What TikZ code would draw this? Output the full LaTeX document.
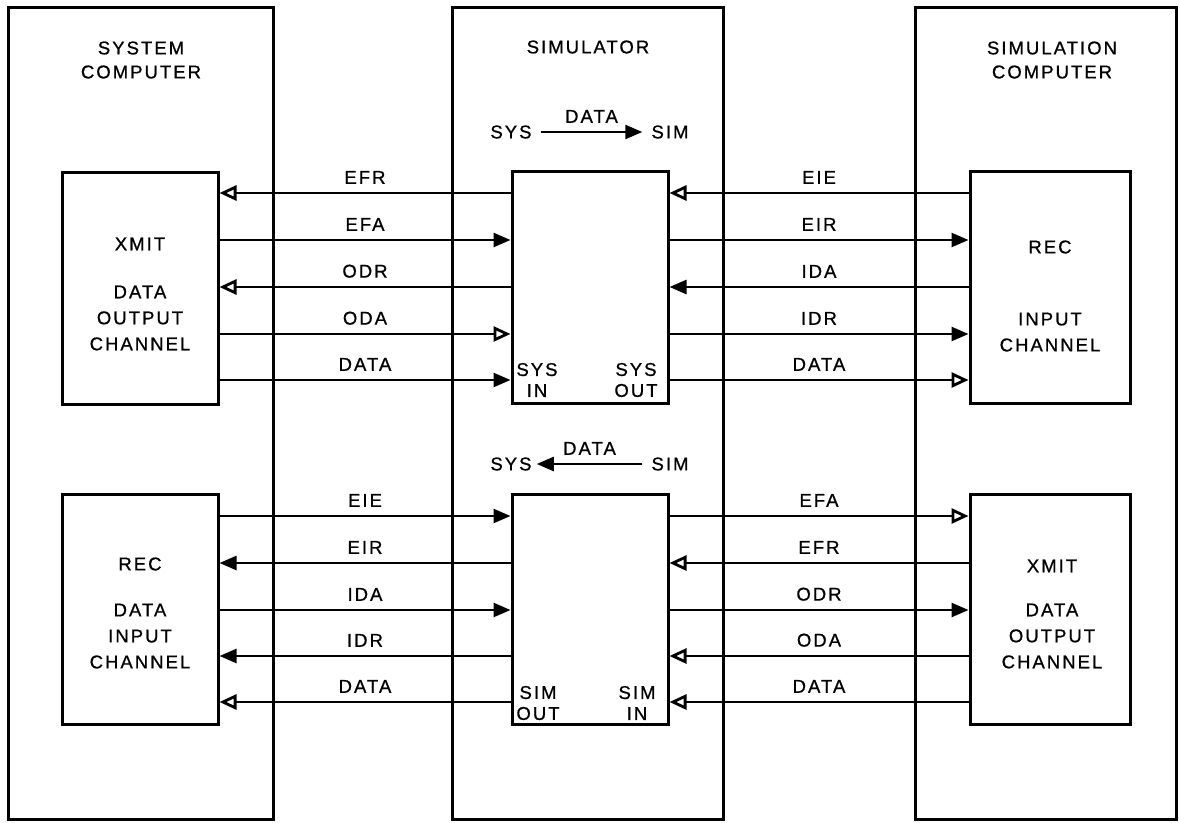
\documentclass[tikz,border=0pt]{standalone}
\usepackage{fontspec}
\setmainfont{Liberation Sans}[LetterSpace=11,FakeBold=0.8]
\usetikzlibrary{arrows.meta,calc}
\tikzset{
  frame/.style={draw, line width=3pt, inner sep=0pt},
  wire/.style={line width=2.5pt},
  fa/.style={wire, -{Triangle[length=17pt,width=14pt]}},
  oa/.style={wire, -{Triangle[open,length=17pt,width=15pt,fill=white,line width=2.8pt]}},
  lab/.style={font=\fontsize{18.5}{21}\selectfont, inner sep=0pt},
  ttl/.style={lab, align=center, font=\fontsize{18.5}{24}\selectfont},
  boxtxt/.style={lab, align=center, font=\fontsize{18.5}{26}\selectfont},
  pair/.style={lab, align=center, font=\fontsize{18.5}{21}\selectfont},
  wlab/.style={lab, above=8pt}
}
\begin{document}
\begin{tikzpicture}[x=1pt,y=-1pt]
\useasboundingbox[fill=white] (0,0) rectangle (1180,822);
% columns
\node[frame, minimum width=265pt, minimum height=812pt] (lcol) at (140.5,413) {};
\node[frame, minimum width=271pt, minimum height=812pt] (mcol) at (587.5,413) {};
\node[frame, minimum width=261pt, minimum height=812pt] (rcol) at (1045.5,413) {};
% titles
\node[ttl] (lttl) at (141,60) {SYSTEM\\COMPUTER};
\node[lab] (mttl) at (588,47) {SIMULATOR};
\node[ttl] (rttl) at (1052,60) {SIMULATION\\COMPUTER};
% top boxes
\node[frame, minimum width=156pt, minimum height=232pt] (ltop) at (140,288) {};
\node[frame, minimum width=156pt, minimum height=232pt] (stop) at (590,287) {};
\node[frame, minimum width=160pt, minimum height=232pt] (rtop) at (1050,287) {};
% bottom boxes
\node[frame, minimum width=156pt, minimum height=230pt] (lbot) at (140,609) {};
\node[frame, minimum width=156pt, minimum height=230pt] (sbot) at (590,609) {};
\node[frame, minimum width=160pt, minimum height=230pt] (rbot) at (1050,609) {};
% box texts
\node[boxtxt] (ltoptxt) at (140,294) {XMIT\\[22pt]DATA\\OUTPUT\\CHANNEL};
\node[boxtxt] (rtoptxt) at (1050,296) {REC\\[46pt]INPUT\\CHANNEL};
\node[boxtxt] (lbottxt) at (140,613) {REC\\[20pt]DATA\\INPUT\\CHANNEL};
\node[boxtxt] (rbottxt) at (1052,614) {XMIT\\[18pt]DATA\\OUTPUT\\CHANNEL};
% port labels
\node[pair] (sysin) at (537,380) {SYS\\IN};
\node[pair] (sysout) at (636,380) {SYS\\OUT};
\node[pair] (simout) at (538,703) {SIM\\OUT};
\node[pair] (simin) at (637,703) {SIM\\IN};
% direction captions
\node[lab, inner xsep=9pt] (sysA) at (511,132) {SYS};
\node[lab, inner xsep=9pt] (simA) at (670,132) {SIM};
\draw[fa] (sysA) -- node[wlab] {DATA} (simA);
\node[lab, inner xsep=5pt] (sysB) at (511,464) {SYS};
\node[lab, inner xsep=9pt] (simB) at (670,464) {SIM};
\draw[fa] (simB) -- node[wlab] {DATA} (sysB);
% top-left signals
\draw[oa] (stop.west |- 0,193) -- node[wlab] {EFR} (ltop.east |- 0,193);
\draw[fa] (ltop.east |- 0,240) -- node[wlab] {EFA} (stop.west |- 0,240);
\draw[oa] (stop.west |- 0,287) -- node[wlab] {ODR} (ltop.east |- 0,287);
\draw[oa] (ltop.east |- 0,334) -- node[wlab] {ODA} (stop.west |- 0,334);
\draw[fa] (ltop.east |- 0,380) -- node[wlab] {DATA} (stop.west |- 0,380);
% top-right signals
\draw[oa] (rtop.west |- 0,193) -- node[wlab] {EIE} (stop.east |- 0,193);
\draw[fa] (stop.east |- 0,240) -- node[wlab] {EIR} (rtop.west |- 0,240);
\draw[fa] (rtop.west |- 0,287) -- node[wlab] {IDA} (stop.east |- 0,287);
\draw[fa] (stop.east |- 0,334) -- node[wlab] {IDR} (rtop.west |- 0,334);
\draw[oa] (stop.east |- 0,380) -- node[wlab] {DATA} (rtop.west |- 0,380);
% bottom-left signals
\draw[fa] (lbot.east |- 0,516) -- node[wlab] {EIE} (sbot.west |- 0,516);
\draw[fa] (sbot.west |- 0,563) -- node[wlab] {EIR} (lbot.east |- 0,563);
\draw[fa] (lbot.east |- 0,610) -- node[wlab] {IDA} (sbot.west |- 0,610);
\draw[fa] (sbot.west |- 0,656) -- node[wlab] {IDR} (lbot.east |- 0,656);
\draw[oa] (sbot.west |- 0,702) -- node[wlab] {DATA} (lbot.east |- 0,702);
% bottom-right signals
\draw[oa] (sbot.east |- 0,516) -- node[wlab] {EFA} (rbot.west |- 0,516);
\draw[oa] (rbot.west |- 0,563) -- node[wlab] {EFR} (sbot.east |- 0,563);
\draw[fa] (sbot.east |- 0,610) -- node[wlab] {ODR} (rbot.west |- 0,610);
\draw[oa] (rbot.west |- 0,656) -- node[wlab] {ODA} (sbot.east |- 0,656);
\draw[oa] (rbot.west |- 0,702) -- node[wlab] {DATA} (sbot.east |- 0,702);
\end{tikzpicture}
\end{document}
